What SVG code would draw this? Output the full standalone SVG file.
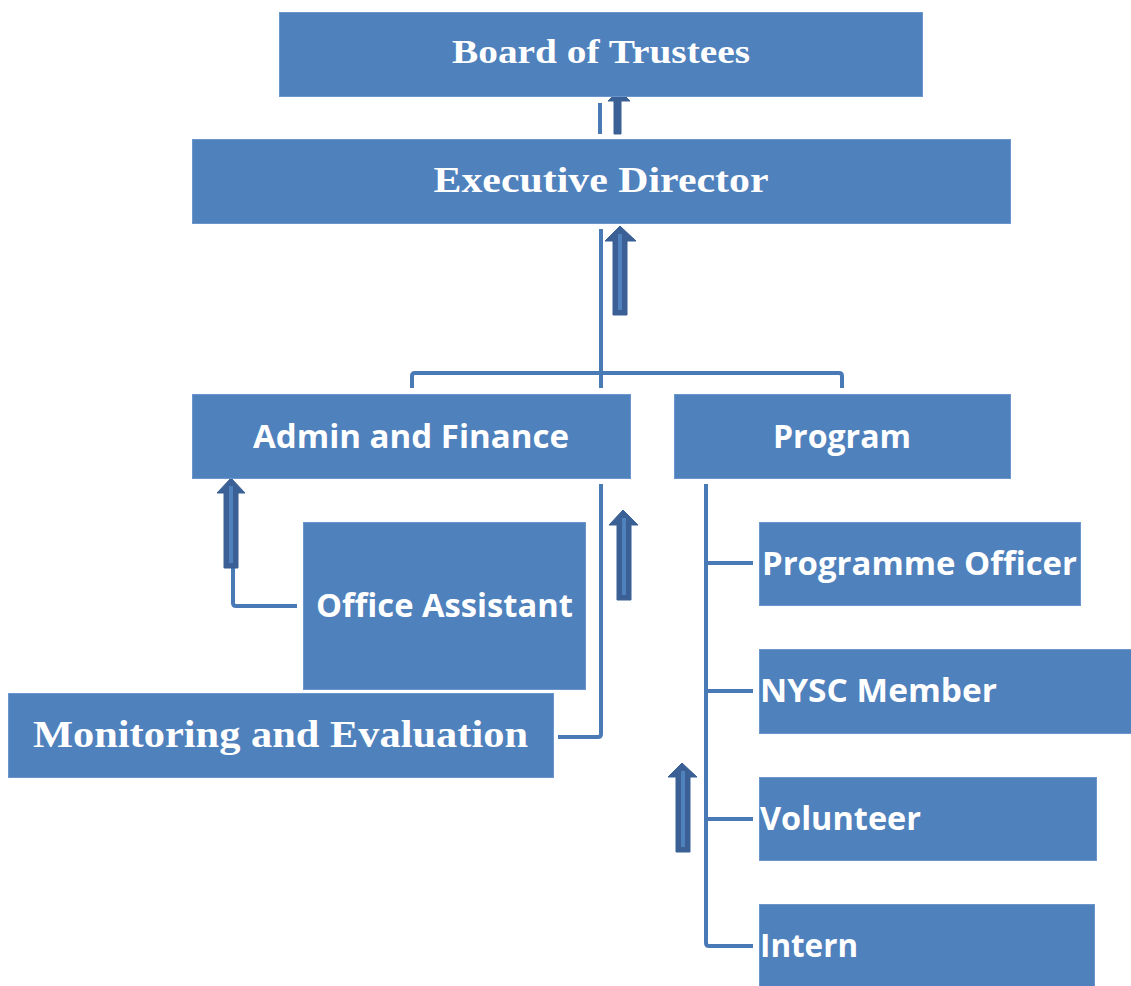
<svg xmlns="http://www.w3.org/2000/svg" width="1131" height="986" viewBox="0 0 1131 986">
<style>
.box{fill:#4f81bd;stroke:#6b96cb;stroke-width:1}
.serif{font-family:"Liberation Serif","DejaVu Serif",serif;font-weight:bold;fill:#fff}
.sans{font-family:"Open Sans","Liberation Sans",sans-serif;font-weight:bold;fill:#fff;font-size:32px}
.ln{fill:none;stroke:#4a7ab6;stroke-width:4;stroke-linejoin:round}
.arr{fill:#3b6096;stroke:#3b6096;stroke-width:1}
.stripe{fill:#4f81bd}
</style>
<rect width="1131" height="986" fill="#fff"/>
<g id="connectors">
<path class="ln" d="M600,103 V134"/>
<path class="ln" d="M601,229 V388"/>
<path class="ln" d="M412,388 V376 Q412,373 415,373 H839 Q842,373 842,376 V388"/>
<path class="ln" d="M297,606 H236 Q233,606 233,603 V568"/>
<path class="ln" d="M601,484 V734 Q601,737 598,737 H558"/>
<path class="ln" d="M706,484 V943 Q706,946 709,946 H753"/>
<path class="ln" d="M706,563 H753"/>
<path class="ln" d="M706,691 H753"/>
<path class="ln" d="M706,819 H753"/>
<polygon class="arr" points="619,90 630,101 621,101 621,134 614,134 614,101 608,101"/>
<polygon class="arr" points="620,226 636,241 627,241 627,315 613,315 613,241 605,241"/>
<rect class="stripe" x="618" y="234" width="4" height="76"/>
<polygon class="arr" points="231,478 245,493 238,493 238,568 224,568 224,493 217,493"/>
<rect class="stripe" x="229" y="486" width="4" height="77"/>
<polygon class="arr" points="623,510 638,525 631,525 631,600 617,600 617,525 609,525"/>
<rect class="stripe" x="622" y="518" width="4" height="77"/>
<polygon class="arr" points="682,763 697,777 690,777 690,852 676,852 676,777 668,777"/>
<rect class="stripe" x="681" y="771" width="4" height="76"/>
</g>
<g id="board">
<rect class="box" x="279.5" y="12.5" width="643" height="84"/>
<text class="serif" x="601" y="63" font-size="34" text-anchor="middle" textLength="298" lengthAdjust="spacingAndGlyphs">Board of Trustees</text>
</g>
<g id="executive-director">
<rect class="box" x="192.5" y="139.5" width="818" height="84"/>
<text class="serif" x="601" y="192" font-size="36" text-anchor="middle" textLength="335" lengthAdjust="spacingAndGlyphs">Executive Director</text>
</g>
<g id="admin-finance">
<rect class="box" x="192.5" y="394.5" width="438" height="84"/>
<text class="sans" x="411" y="448" text-anchor="middle" textLength="316" lengthAdjust="spacingAndGlyphs">Admin and Finance</text>
</g>
<g id="program">
<rect class="box" x="674.5" y="394.5" width="336" height="84"/>
<text class="sans" x="842" y="448" text-anchor="middle" textLength="138" lengthAdjust="spacingAndGlyphs">Program</text>
</g>
<g id="office-assistant">
<rect class="box" x="303.5" y="522.5" width="282" height="167"/>
<text class="sans" x="316" y="617" textLength="257" lengthAdjust="spacingAndGlyphs">Office Assistant</text>
</g>
<g id="monitoring-evaluation">
<rect class="box" x="8.5" y="693.5" width="545" height="84"/>
<text class="serif" x="33" y="747" font-size="37" textLength="495" lengthAdjust="spacingAndGlyphs">Monitoring and Evaluation</text>
</g>
<g id="programme-officer">
<rect class="box" x="759.5" y="522.5" width="321" height="83"/>
<text class="sans" x="762" y="575" textLength="315" lengthAdjust="spacingAndGlyphs">Programme Officer</text>
</g>
<g id="nysc-member">
<rect class="box" x="759.5" y="649.5" width="372" height="84"/>
<text class="sans" x="760" y="702" textLength="237" lengthAdjust="spacingAndGlyphs">NYSC Member</text>
</g>
<g id="volunteer">
<rect class="box" x="759.5" y="777.5" width="337" height="83"/>
<text class="sans" x="760" y="830" textLength="161" lengthAdjust="spacingAndGlyphs">Volunteer</text>
</g>
<g id="intern">
<rect class="box" x="759.5" y="904.5" width="335" height="82"/>
<text class="sans" x="760" y="957" textLength="98" lengthAdjust="spacingAndGlyphs">Intern</text>
</g>
</svg>
